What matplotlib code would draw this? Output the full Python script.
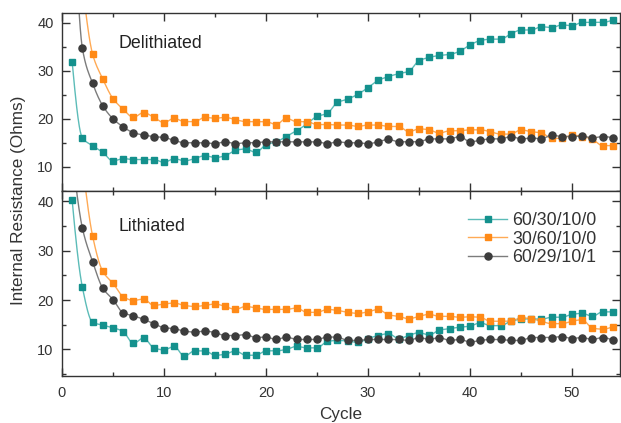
import numpy as np
import matplotlib
matplotlib.use("Agg")
import matplotlib.pyplot as plt
from matplotlib.lines import Line2D
from matplotlib.ticker import MultipleLocator

plt.rcParams["font.family"] = ["Liberation Sans", "DejaVu Sans"]

cycles = np.arange(1, 55)
labels = ["60/30/10/0", "30/60/10/0", "60/29/10/1"]

# delithiated resistance (Ohms); first points of orange/grey are above the axis
delith_6030 = [31.8, 16.0, 14.4, 13.0, 11.2, 11.7, 11.5, 11.5, 11.5, 10.9,
               11.7, 11.2, 11.7, 12.3, 11.9, 12.3, 13.4, 13.7, 13.0, 14.6,
               15.2, 16.3, 17.5, 18.9, 20.5, 21.1, 23.4, 24.1, 25.1, 26.5,
               28.0, 28.8, 29.4, 29.9, 32.1, 32.8, 33.2, 33.4, 34.1, 35.4,
               36.3, 36.6, 36.6, 37.7, 38.5, 38.5, 39.2, 39.0, 39.6, 39.4,
               40.1, 40.1, 40.1, 40.6]
delith_3060 = [70.0, 48.0, 33.5, 28.3, 24.2, 22.0, 20.3, 21.3, 20.3, 19.2,
               20.1, 19.4, 19.4, 20.3, 20.1, 20.3, 19.8, 19.4, 19.4, 19.4,
               18.8, 20.1, 19.4, 19.4, 18.8, 18.8, 18.7, 18.7, 18.4, 18.7,
               18.7, 18.4, 18.4, 17.3, 17.9, 17.7, 17.0, 17.5, 17.5, 17.7,
               17.7, 17.3, 16.8, 16.8, 17.7, 17.3, 17.1, 15.9, 15.9, 16.6,
               16.3, 15.7, 14.4, 14.4]
delith_6029 = [75.0, 34.7, 27.4, 22.7, 20.0, 18.3, 17.1, 16.6, 16.3, 16.1,
               15.5, 15.0, 15.0, 15.0, 14.8, 15.2, 14.8, 15.0, 15.0, 15.2,
               15.2, 15.2, 15.2, 15.2, 15.2, 14.8, 15.2, 15.0, 15.0, 14.8,
               15.2, 15.7, 15.2, 15.2, 15.2, 15.8, 15.8, 15.8, 16.3, 15.2,
               15.5, 15.8, 15.8, 16.3, 15.8, 16.0, 15.8, 16.6, 16.3, 16.3,
               16.4, 16.0, 16.3, 16.0]

# lithiated resistance (Ohms)
lith_6030 = [40.2, 22.6, 15.5, 14.9, 14.4, 13.6, 11.2, 12.3, 10.3, 9.9,
             10.6, 8.6, 9.7, 9.7, 8.8, 9.0, 9.7, 8.8, 8.8, 9.7,
             9.7, 10.0, 10.6, 10.3, 10.3, 11.6, 11.8, 11.7, 11.4, 12.2,
             12.8, 13.2, 12.2, 12.8, 13.4, 12.9, 13.9, 14.2, 14.5, 14.7,
             15.4, 14.8, 14.8, 15.7, 16.1, 16.2, 16.1, 16.5, 16.5, 17.1,
             17.3, 16.7, 17.6, 17.6]
lith_3060 = [70.0, 48.0, 33.0, 25.8, 23.4, 20.7, 19.9, 20.2, 18.9, 19.2,
             19.4, 18.9, 18.7, 18.9, 19.2, 18.7, 18.1, 18.7, 18.4, 18.1,
             18.1, 18.1, 18.4, 17.5, 17.5, 18.1, 17.9, 17.5, 17.3, 17.6,
             18.1, 17.0, 16.7, 16.2, 16.7, 17.1, 16.7, 16.7, 16.5, 16.6,
             16.5, 15.7, 15.7, 15.7, 16.4, 16.2, 15.7, 15.2, 15.2, 15.7,
             16.0, 14.3, 14.1, 14.6]
lith_6029 = [50.0, 34.6, 27.8, 22.4, 20.1, 17.4, 16.8, 16.1, 15.2, 14.4,
             14.2, 13.7, 13.5, 13.7, 13.4, 12.8, 12.8, 13.0, 12.4, 12.5,
             12.0, 12.5, 12.0, 12.0, 12.0, 12.5, 12.5, 11.8, 11.8, 12.0,
             12.0, 12.0, 12.0, 11.8, 12.4, 12.0, 12.4, 11.8, 12.0, 11.5,
             11.8, 12.0, 12.0, 11.8, 11.8, 12.4, 12.4, 12.4, 12.6, 12.2,
             12.4, 12.0, 12.4, 11.8]

marker_colors = ["#14918d", "#ff8a17", "#3c3c3c"]
line_colors = ["#5cbcb8", "#ffaa55", "#7c7c7c"]
markers = ["s", "s", "o"]
msizes = [4.5, 4.5, 5.1]


def pchip(x, y, xs):
    # monotone cubic curve, only used to draw the smooth connecting line
    x = np.asarray(x, float)
    y = np.asarray(y, float)
    h = np.diff(x)
    d = np.diff(y) / h
    n = len(x)
    m = np.zeros(n)
    for k in range(1, n - 1):
        if d[k - 1] * d[k] > 0:
            w1 = 2 * h[k] + h[k - 1]
            w2 = h[k] + 2 * h[k - 1]
            m[k] = (w1 + w2) / (w1 / d[k - 1] + w2 / d[k])

    def end(h0, h1, d0, d1):
        v = ((2 * h0 + h1) * d0 - h0 * d1) / (h0 + h1)
        if np.sign(v) != np.sign(d0):
            return 0.0
        if np.sign(d0) != np.sign(d1) and abs(v) > 3 * abs(d0):
            return 3 * d0
        return v

    m[0] = end(h[0], h[1], d[0], d[1])
    m[-1] = end(h[-1], h[-2], d[-1], d[-2])
    idx = np.clip(np.searchsorted(x, xs) - 1, 0, n - 2)
    t = (xs - x[idx]) / h[idx]
    h00 = 2 * t**3 - 3 * t**2 + 1
    h10 = t**3 - 2 * t**2 + t
    h01 = -2 * t**3 + 3 * t**2
    h11 = t**3 - t**2
    return (h00 * y[idx] + h10 * h[idx] * m[idx]
            + h01 * y[idx + 1] + h11 * h[idx] * m[idx + 1])


def style_axes(ax, ylim):
    ax.set_xlim(0, 54.7)
    ax.set_ylim(*ylim)
    ax.xaxis.set_major_locator(MultipleLocator(10))
    ax.xaxis.set_minor_locator(MultipleLocator(5))
    ax.yaxis.set_major_locator(MultipleLocator(10))
    ax.yaxis.set_minor_locator(MultipleLocator(5))
    ax.tick_params(which="both", direction="in", top=True, right=True,
                   color="#333333", width=1.0, labelsize=10.5,
                   labelcolor="#333333")
    ax.tick_params(which="major", length=5.6)
    ax.tick_params(which="minor", length=2.6)
    ax.tick_params(axis="y", pad=6)
    ax.tick_params(axis="x", pad=7)
    for s in ax.spines.values():
        s.set_color("#333333")
        s.set_linewidth(1.0)


def draw_series(ax, series):
    xs = np.linspace(1, 54, 1200)
    for vals, mc, lc, mk, ms in zip(series, marker_colors, line_colors,
                                     markers, msizes):
        ax.plot(xs, pchip(cycles, vals, xs), color=lc, lw=1.0, zorder=2)
        ax.plot(cycles, vals, ls="none", marker=mk, ms=ms, color=mc,
                mec=mc, zorder=3)


fig = plt.figure(figsize=(6.21, 4.23), dpi=100)
ax_top = fig.add_axes([0.0998, 0.5485, 0.8985, 0.4201])
ax_bot = fig.add_axes([0.0998, 0.1111, 0.8985, 0.4374])

draw_series(ax_top, [delith_6030, delith_3060, delith_6029])
draw_series(ax_bot, [lith_6030, lith_3060, lith_6029])

style_axes(ax_top, (4.94, 42.0))
style_axes(ax_bot, (4.6, 42.1))
ax_top.tick_params(labelbottom=False)

fig.text(118 / 621, 1 - 48.3 / 423, "Delithiated", fontsize=12.8,
         color="#222222", va="baseline")
fig.text(118 / 621, 1 - 230.7 / 423, "Lithiated", fontsize=12.8,
         color="#222222", va="baseline")

fig.text(19 / 621, 1 - 200 / 423, "Internal Resistance (Ohms)",
         rotation=90, fontsize=12.3, color="#333333",
         ha="center", va="center")
fig.text(341 / 621, 1 - 407 / 423, "Cycle", fontsize=12.3,
         color="#333333", ha="center", va="top")

handles = [Line2D([], [], color=lc, lw=1.0, marker=mk, ms=ms, mfc=mc, mec=mc)
           for mc, lc, mk, ms in zip(marker_colors, line_colors, markers,
                                     msizes)]
fig.legend(handles, labels, loc="center left",
           bbox_to_anchor=(461 / 621, 1 - 239 / 423), frameon=False,
           fontsize=12.8, handlelength=2.2, handletextpad=0.3,
           labelspacing=0.1, borderaxespad=0, labelcolor="#333333")

fig.savefig("out.png", dpi=100)
